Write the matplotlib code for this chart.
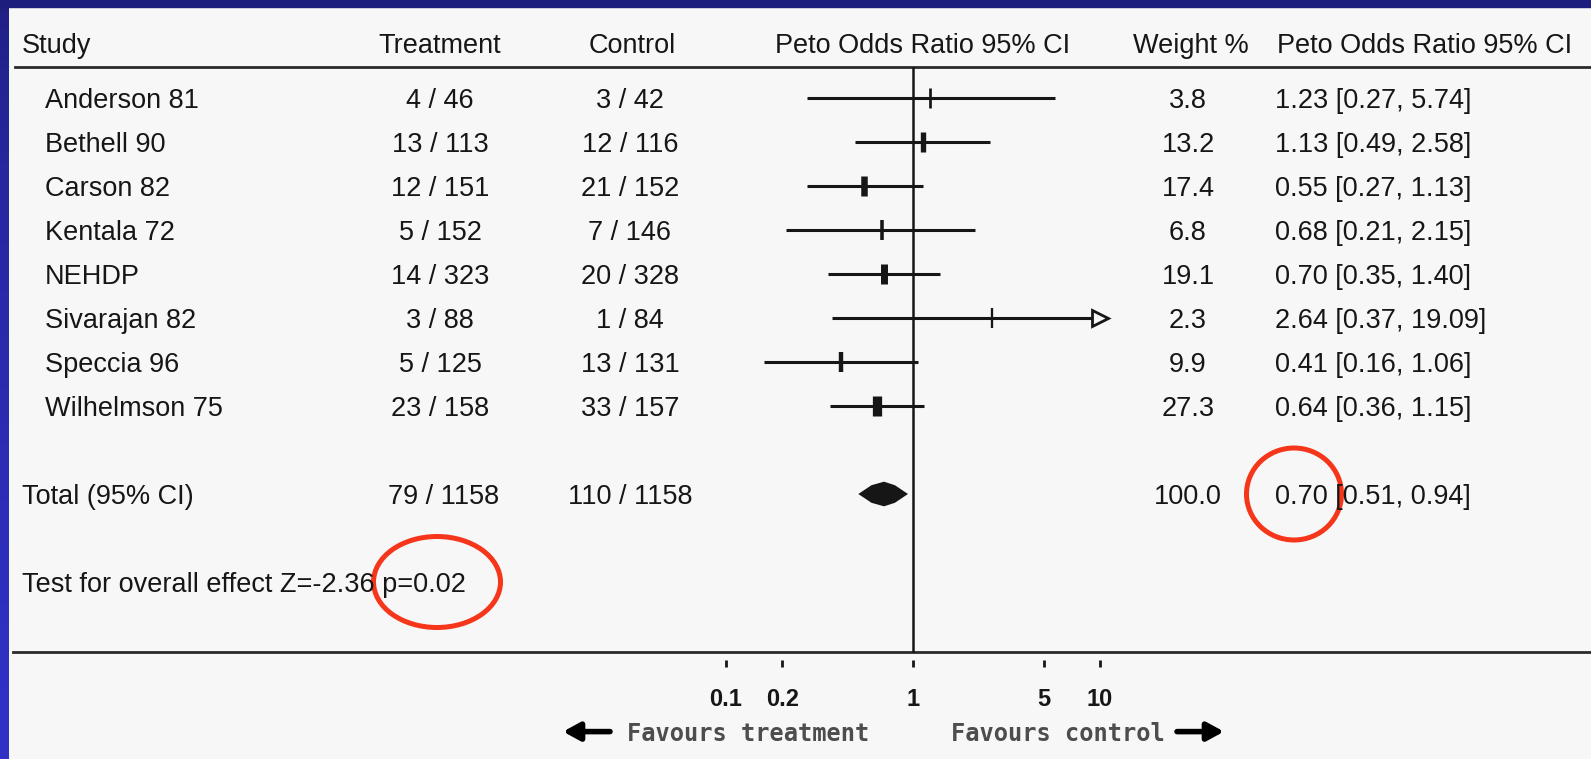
import numpy as np
import matplotlib
matplotlib.use("Agg")
from matplotlib import pyplot as plt
from matplotlib.patches import Ellipse, Rectangle

studies = ["Anderson 81", "Bethell 90", "Carson 82", "Kentala 72",
           "NEHDP", "Sivarajan 82", "Speccia 96", "Wilhelmson 75"]
treat_events = [4, 13, 12, 5, 14, 3, 5, 23]
treat_total = [46, 113, 151, 152, 323, 88, 125, 158]
ctrl_events = [3, 12, 21, 7, 20, 1, 13, 33]
ctrl_total = [42, 116, 152, 146, 328, 84, 131, 157]
weights = [3.8, 13.2, 17.4, 6.8, 19.1, 2.3, 9.9, 27.3]
odds_ratio = [1.23, 1.13, 0.55, 0.68, 0.70, 2.64, 0.41, 0.64]
ci_low = [0.27, 0.49, 0.27, 0.21, 0.35, 0.37, 0.16, 0.36]
ci_high = [5.74, 2.58, 1.13, 2.15, 1.40, 19.09, 1.06, 1.15]

total_treat = "79 / 1158"
total_ctrl = "110 / 1158"
total_weight = 100.0
total_or = 0.70
total_low = 0.51
total_high = 0.94
z_value = -2.36
p_value = 0.02

axis_ticks = [0.1, 0.2, 1, 5, 10]
axis_labels = ["0.1", "0.2", "1", "5", "10"]

W, H = 1591, 759
ink = "#161616"
paper = "#f7f7f7"
table_font = ["Liberation Sans", "DejaVu Sans"]
fs = 19.5
dy = 0.07  # nudge text down so glyphs sit on the row line

def fx(px):
    return px / W

fig = plt.figure(figsize=(W / 100, H / 100), dpi=100, facecolor=paper)

# forest plot axes spans the whole figure; x is log odds ratio, y is table rows
ax = fig.add_axes([0, 0, 1, 1])
ax.set_xscale("log")
ax.set_xlim(10 ** (-913 / 187), 10 ** ((W - 913) / 187))
ax.set_ylim((H - 98) / 44, -98 / 44)
ax.axis("off")
tr = ax.get_yaxis_transform()

def cell(x, y, s, ha="left"):
    ax.text(fx(x), y + dy, s, transform=tr, ha=ha, va="center",
            fontsize=fs, family=table_font, color=ink)

rows = np.arange(len(studies))
total_row = 9
test_row = 11
head_row = -1.25
head_line = -0.7
axis_line = 12.6

# header
cell(22, head_row, "Study")
cell(440, head_row, "Treatment", "center")
cell(632, head_row, "Control", "center")
cell(923, head_row, "Peto Odds Ratio 95% CI", "center")
cell(1191, head_row, "Weight %", "center")
cell(1277, head_row, "Peto Odds Ratio 95% CI")
ax.axhline(head_line, xmin=fx(15), xmax=1, color="#2a2a2a", lw=2)
ax.axhline(axis_line, xmin=fx(13), xmax=1, color="#2a2a2a", lw=2)
ax.vlines(1, head_line, axis_line, color=ink, lw=1.8)

# study rows
for i, name in enumerate(studies):
    cell(45, rows[i], name)
    cell(440, rows[i], f"{treat_events[i]} / {treat_total[i]}", "center")
    cell(630, rows[i], f"{ctrl_events[i]} / {ctrl_total[i]}", "center")
    cell(1188, rows[i], f"{weights[i]:.1f}", "center")
    cell(1275, rows[i], f"{odds_ratio[i]:.2f} [{ci_low[i]:.2f}, {ci_high[i]:.2f}]")

    hi = min(ci_high[i], axis_ticks[-1])
    ax.hlines(rows[i], ci_low[i], hi, color=ink, lw=2.2)
    ax.plot(odds_ratio[i], rows[i], marker="|", ms=14, mew=1.2 + 0.2 * weights[i], color=ink)
    if ci_high[i] > axis_ticks[-1]:
        ax.plot(hi, rows[i], marker=">", ms=11, mfc=paper, mec=ink, mew=2)

# pooled estimate
cell(22, total_row, "Total (95% CI)")
cell(444, total_row, total_treat, "center")
cell(630, total_row, total_ctrl, "center")
cell(1188, total_row, f"{total_weight:.1f}", "center")
cell(1275, total_row, f"{total_or:.2f} [{total_low:.2f}, {total_high:.2f}]")
ax.fill([total_low, 0.6, total_or, 0.8, total_high, 0.8, total_or, 0.6],
        [total_row, total_row - 0.2, total_row - 0.28, total_row - 0.2,
         total_row, total_row + 0.2, total_row + 0.28, total_row + 0.2],
        color=ink, lw=0)

cell(22, test_row, f"Test for overall effect Z={z_value:.2f} p={p_value:.2f}")

# scale ticks below the axis line
ax.vlines(axis_ticks, 12.78, 12.93, color=ink, lw=2)
for t, lab in zip(axis_ticks, axis_labels):
    ax.text(t, 13.68, lab, ha="center", va="center", fontsize=17, fontweight="bold",
            family=["Liberation Sans Narrow", "Liberation Sans", "DejaVu Sans"], color=ink)

fav_kw = dict(transform=tr, va="center", fontsize=17, fontweight="bold",
              family=["DejaVu Sans Mono"], color="#4d4d4d")
ax.text(fx(748), 14.45, "Favours treatment", ha="center", **fav_kw)
ax.text(fx(1058), 14.45, "Favours control", ha="center", **fav_kw)
arrow = dict(arrowstyle="-|>,head_length=0.55,head_width=0.3", lw=4, color="black",
             mutation_scale=18, shrinkA=0, shrinkB=0)
ax.annotate("", xy=(fx(563), 14.4), xytext=(fx(610), 14.4), xycoords=tr, textcoords=tr,
            arrowprops=arrow)
ax.annotate("", xy=(fx(1224), 14.4), xytext=(fx(1177), 14.4), xycoords=tr, textcoords=tr,
            arrowprops=arrow)

# red highlight rings
ring = dict(transform=tr, fill=False, ec="#f5361b", lw=3.6)
ax.add_patch(Ellipse((fx(1294), total_row), 95 / W, 92 / 44, **ring))
ax.add_patch(Ellipse((fx(437), test_row), 127 / W, 91 / 44, **ring))

# slide frame: navy top strip and blue left strip
fig.add_artist(Rectangle((0, 1 - 7 / H), 1, 7 / H, transform=fig.transFigure,
                         color="#1d1d7e", zorder=5))
band = fig.add_axes([0, 0, 9 / W, 1 - 7 / H])
grad = np.linspace(0, 1, 256).reshape(-1, 1)
top_c = np.array([0x1f, 0x1f, 0x82]) / 255
bot_c = np.array([0x31, 0x31, 0xc8]) / 255
band.imshow(top_c + (bot_c - top_c) * grad[:, :, None] ** 0.6, aspect="auto",
            extent=[0, 1, 0, 1], origin="upper")
band.axis("off")

fig.savefig("out.png", dpi=100, facecolor=paper)
